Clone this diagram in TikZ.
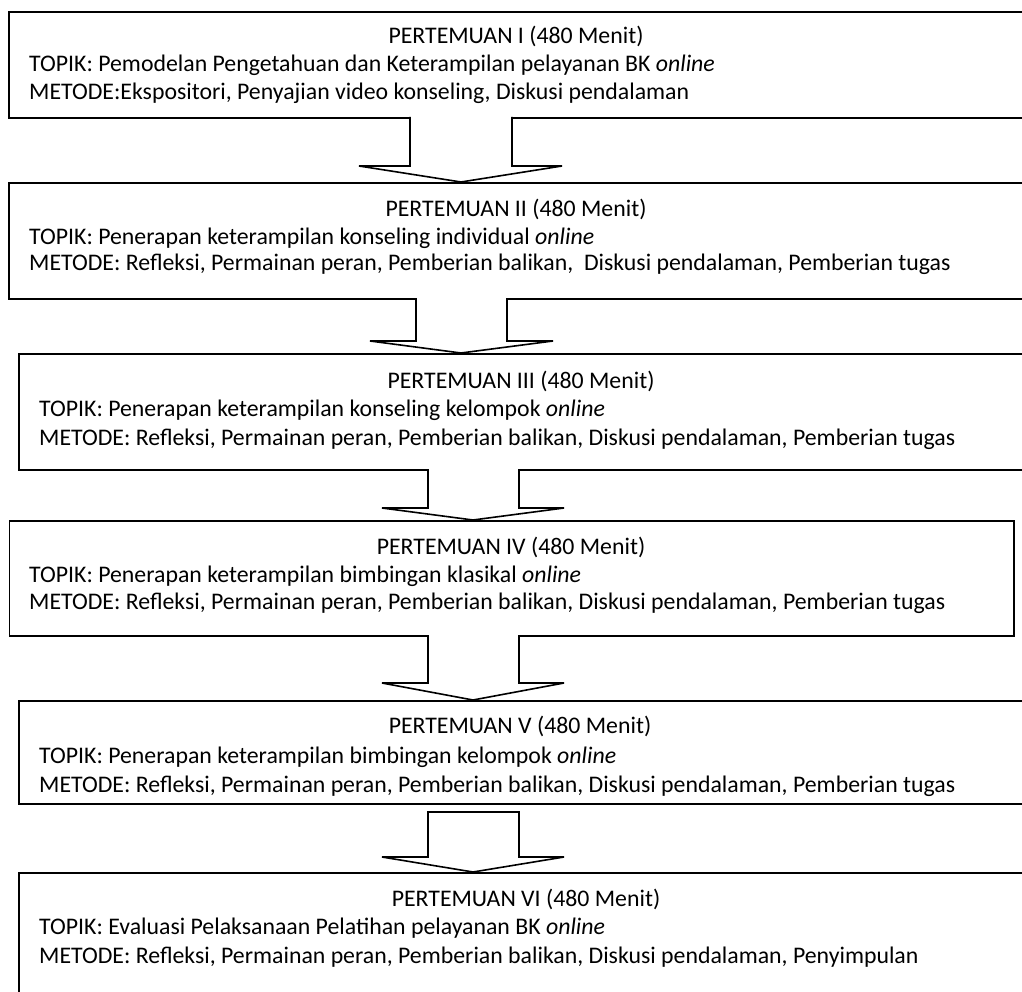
\documentclass[tikz,border=0pt]{standalone}
\usepackage{fontspec}
\setmainfont{Carlito}
\begin{document}
\begin{tikzpicture}[x=1pt,y=-1pt,
  box/.style={draw=black,line width=1.6pt,fill=white,rectangle,inner sep=0pt,anchor=north west},
  blockarrow/.style={draw=black,line width=1.6pt,fill=white,line join=miter},
  ttl/.style={anchor=base,inner sep=0pt,font=\fontsize{23.8}{29}\selectfont},
  txt/.style={anchor=base west,inner sep=0pt,font=\fontsize{23.8}{29}\selectfont}]
\useasboundingbox (0,0) rectangle (1022,992);
\clip (0,0) rectangle (1022,992);
% boxes
\node[box,minimum width=1022pt,minimum height=106pt] (b1) at (8,11) {};
\node[box,minimum width=1022pt,minimum height=116pt] (b2) at (8,182) {};
\node[box,minimum width=1012pt,minimum height=116pt] (b3) at (18,353) {};
\node[box,minimum width=1004.5pt,minimum height=115pt] (b4) at (8.5,520) {};
\node[box,minimum width=1012pt,minimum height=103pt] (b5) at (18,700) {};
\node[box,minimum width=1012pt,minimum height=140pt] (b6) at (18,872) {};
% block arrows
\coordinate (t1) at (461,182);
\coordinate (t2) at (461,353);
\coordinate (t3) at (473,520);
\coordinate (t4) at (473,700);
\coordinate (t5) at (473,872);
\draw[blockarrow] (410,117) -- (410,166) -- (359,166) -- (t1) -- (562,166) -- (512,166) -- (512,117);
\draw[blockarrow] (416,298) -- (416,341) -- (370,341) -- (t2) -- (553,341) -- (507,341) -- (507,298);
\draw[blockarrow] (428,469) -- (428,508) -- (382,508) -- (t3) -- (564,508) -- (519,508) -- (519,469);
\draw[blockarrow] (428,635) -- (428,683) -- (382,683) -- (t4) -- (564,683) -- (519,683) -- (519,635);
\draw[blockarrow] (428,812) -- (428,857) -- (382,857) -- (t5) -- (564,857) -- (519,857) -- (519,812) -- cycle;
% texts box 1
\node[ttl] (h1) at (516,44) {PERTEMUAN I (480 Menit)};
\node[txt] (p1) at (29,72) {TOPIK: Pemodelan Pengetahuan dan Keterampilan pelayanan BK \textit{online}};
\node[txt] (m1) at (29,100) {METODE:Ekspositori, Penyajian video konseling, Diskusi pendalaman};
% box 2
\node[ttl] (h2) at (516,217) {PERTEMUAN II (480 Menit)};
\node[txt] (p2) at (29,244) {TOPIK: Penerapan keterampilan konseling individual \textit{online}};
\node[txt] (m2) at (29,271) {METODE: Refleksi, Permainan peran, Pemberian balikan, \ Diskusi pendalaman, Pemberian tugas};
% box 3
\node[ttl] (h3) at (521,388) {PERTEMUAN III (480 Menit)};
\node[txt] (p3) at (39,416) {TOPIK: Penerapan keterampilan konseling kelompok \textit{online}};
\node[txt] (m3) at (39,445) {METODE: Refleksi, Permainan peran, Pemberian balikan, Diskusi pendalaman, Pemberian tugas};
% box 4
\node[ttl] (h4) at (511,554) {PERTEMUAN IV (480 Menit)};
\node[txt] (p4) at (29,582) {TOPIK: Penerapan keterampilan bimbingan klasikal \textit{online}};
\node[txt] (m4) at (29,609) {METODE: Refleksi, Permainan peran, Pemberian balikan, Diskusi pendalaman, Pemberian tugas};
% box 5
\node[ttl] (h5) at (520,733) {PERTEMUAN V (480 Menit)};
\node[txt] (p5) at (39,763) {TOPIK: Penerapan keterampilan bimbingan kelompok \textit{online}};
\begin{scope}
\clip (0,700) rectangle (1022,797);
\node[txt] (m5) at (39,792) {METODE: Refleksi, Permainan peran, Pemberian balikan, Diskusi pendalaman, Pemberian tugas};
\end{scope}
% box 6
\node[ttl] (h6) at (526,906) {PERTEMUAN VI (480 Menit)};
\node[txt] (p6) at (39,934) {TOPIK: Evaluasi Pelaksanaan Pelatihan pelayanan BK \textit{online}};
\node[txt] (m6) at (39,963) {METODE: Refleksi, Permainan peran, Pemberian balikan, Diskusi pendalaman, Penyimpulan};
\end{tikzpicture}
\end{document}
